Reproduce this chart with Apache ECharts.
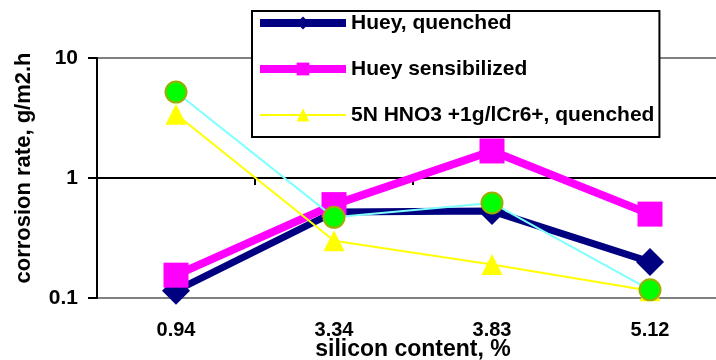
<!DOCTYPE html>
<html>
<head>
<meta charset="utf-8">
<script src="https://cdn.jsdelivr.net/npm/echarts@6/dist/echarts.min.js"></script>
<style>
html,body{margin:0;padding:0;background:#fff;}
#chart{width:716px;height:360px;}
</style>
</head>
<body>
<div id="chart"></div>
<script>
var categories = ['0.94', '3.34', '3.83', '5.12'];
var hueyQuenched = [0.115, 0.52, 0.53, 0.20];
var hueySensibilized = [0.155, 0.60, 1.68, 0.50];
var hno3Quenched = [3.4, 0.30, 0.19, 0.115];
var fourthSeries = [5.2, 0.47, 0.62, 0.117];
var yTicks = [0.1, 1, 10];

var FONT = "'Liberation Sans', Arial, sans-serif";
var chart = echarts.init(document.getElementById('chart'), null, {renderer: 'canvas'});

var option = {
  animation: false,
  backgroundColor: '#fff',
  textStyle: {fontFamily: FONT},
  grid: {left: 97, top: 58, width: 632, height: 240, containLabel: false, outerBoundsMode: 'none'},
  legend: {
    data: [
      {name: 'Huey, quenched', lineStyle: {width: 8}},
      {name: 'Huey sensibilized', lineStyle: {width: 8}},
      {name: '5N HNO3 +1g/lCr6+, quenched', lineStyle: {width: 2}}
    ],
    orient: 'vertical',
    left: 252,
    top: 11,
    padding: [1, 5, 11, 4],
    itemGap: 24,
    itemWidth: 86,
    itemHeight: 16,
    backgroundColor: '#fff',
    borderColor: '#000',
    borderWidth: 2,
    borderRadius: 0,
    textStyle: {fontFamily: FONT, fontWeight: 'bold', fontSize: 21, lineHeight: 22, color: '#000'}
  },
  xAxis: [{
    type: 'category',
    data: categories,
    boundaryGap: true,
    position: 'bottom',
    name: 'silicon content, %',
    nameLocation: 'middle',
    nameGap: 40,
    nameMoveOverlap: false,
    nameTextStyle: {fontFamily: FONT, fontWeight: 'bold', fontSize: 23, color: '#000', verticalAlign: 'top'},
    axisLine: {show: false},
    axisTick: {show: false},
    axisLabel: {margin: 22, fontFamily: FONT, fontWeight: 'bold', fontSize: 20, color: '#000'},
    splitLine: {show: false}
  }, {
    type: 'category',
    data: categories,
    boundaryGap: true,
    position: 'top',
    offset: -120,
    axisLine: {show: true, lineStyle: {color: '#000', width: 2}},
    axisTick: {show: true, inside: true, length: 7, lineStyle: {color: '#000', width: 2}},
    axisLabel: {show: false},
    splitLine: {show: false}
  }],
  yAxis: {
    type: 'log',
    logBase: 10,
    min: yTicks[0],
    max: yTicks[yTicks.length - 1],
    name: 'corrosion rate, g/m2.h',
    nameLocation: 'middle',
    nameGap: 62,
    nameMoveOverlap: false,
    nameTextStyle: {fontFamily: FONT, fontWeight: 'bold', fontSize: 22, color: '#000', padding: [0, 0, 0, 20]},
    axisLine: {show: true, lineStyle: {color: '#000', width: 2}},
    axisTick: {show: true, inside: false, length: 9, lineStyle: {color: '#000', width: 2}},
    minorTick: {show: false},
    axisLabel: {margin: 19, fontFamily: FONT, fontWeight: 'bold', fontSize: 21, color: '#000',
      formatter: function (v) { return String(v); }},
    splitLine: {show: true, lineStyle: {color: '#808080', width: 2}},
    minorSplitLine: {show: false}
  },
  series: [{
    name: 'Huey, quenched',
    type: 'line',
    data: hueyQuenched,
    z: 2,
    symbol: 'diamond',
    symbolSize: 28,
    lineStyle: {color: '#000080', width: 7},
    itemStyle: {color: '#000080', borderWidth: 0},
    emphasis: {disabled: true}
  }, {
    name: 'Huey sensibilized',
    type: 'line',
    data: hueySensibilized,
    z: 3,
    symbol: 'rect',
    symbolSize: 25,
    lineStyle: {color: '#ff00ff', width: 8},
    itemStyle: {color: '#ff00ff', borderWidth: 0},
    emphasis: {disabled: true}
  }, {
    name: '5N HNO3 +1g/lCr6+, quenched',
    type: 'line',
    data: hno3Quenched,
    z: 4,
    symbol: 'triangle',
    symbolSize: 21,
    lineStyle: {color: '#ffff00', width: 2},
    itemStyle: {color: '#ffff00', borderWidth: 0},
    emphasis: {disabled: true}
  }, {
    name: 'series4',
    type: 'line',
    data: fourthSeries,
    z: 5,
    symbol: 'circle',
    symbolSize: 21,
    lineStyle: {color: '#80ffff', width: 2},
    itemStyle: {color: '#00ff00', borderColor: '#9caf00', borderWidth: 2},
    emphasis: {disabled: true}
  }]
};
chart.setOption(option);
</script>
</body>
</html>
